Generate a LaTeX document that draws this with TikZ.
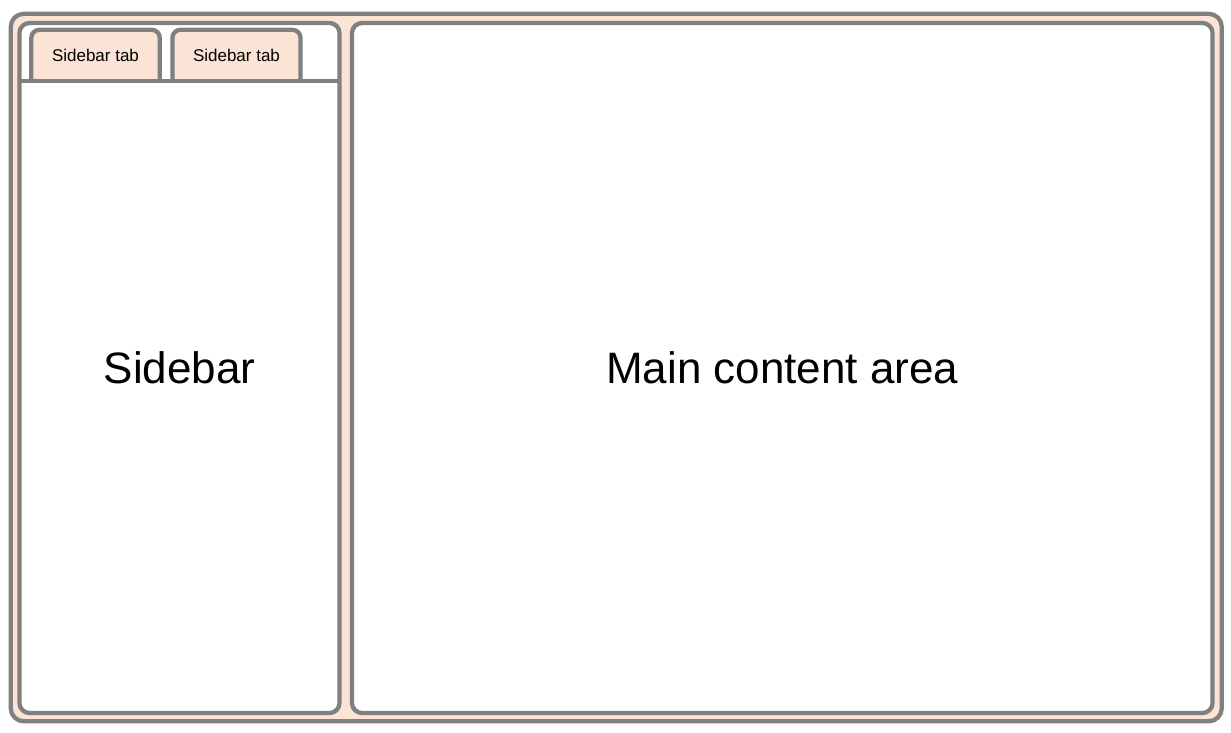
\documentclass[tikz,border=0pt]{standalone}
\usepackage{fontspec}
\setmainfont{Liberation Sans}
\definecolor{strokegray}{HTML}{808080}
\definecolor{peach}{HTML}{FBE3D6}
\tikzset{
  frame/.style={draw=strokegray, line width=4.3pt, fill=peach, rounded corners=13pt},
  panel/.style={draw=strokegray, line width=4.3pt, fill=white, rounded corners=10pt, inner sep=0pt, outer sep=0pt},
  tabshape/.style={draw=strokegray, line width=4.3pt, fill=peach, rounded corners=8pt},
  sepline/.style={draw=strokegray, line width=4.3pt},
  tablabel/.style={font=\fontsize{17}{20}\selectfont, inner sep=0pt},
  biglabel/.style={font=\fontsize{44}{50}\selectfont, inner sep=0pt}
}
\begin{document}
\begin{tikzpicture}[x=1pt,y=-1pt]
\useasboundingbox (0,0) rectangle (1231,732);
% outer frame
\node[frame, minimum width=1211pt, minimum height=707.5pt, inner sep=0pt] (outer) at (616.25,367.55) {};
% sidebar panel
\node[panel, minimum width=320pt, minimum height=690pt] (sidebar) at (179.5,368) {};
% main content panel
\node[panel, minimum width=860.5pt, minimum height=690pt] (main) at (782.25,368) {};
% tabs
\coordinate (t1a) at (31.3,80.8);
\coordinate (t1b) at (159.8,80.8);
\coordinate (t2a) at (172.4,80.8);
\coordinate (t2b) at (300.5,80.8);
\path[tabshape] (t1a) -- (31.3,29.8) -- (159.8,29.8) -- (t1b);
\path[tabshape] (t2a) -- (172.4,29.8) -- (300.5,29.8) -- (t2b);
% separator line
\coordinate (sepL) at (19.5,80.8);
\coordinate (sepR) at (339.5,80.8);
\draw[sepline] (sepL) -- (sepR);
% labels
\node[tablabel, anchor=base] (tab1) at (95.5,61) {Sidebar tab};
\node[tablabel, anchor=base] (tab2) at (236.5,61) {Sidebar tab};
\node[biglabel, anchor=base] (sidebarlabel) at (179.5,383.3) {Sidebar};
\node[biglabel, anchor=base] (mainlabel) at (782.25,383.3) {Main content area};
\end{tikzpicture}
\end{document}
